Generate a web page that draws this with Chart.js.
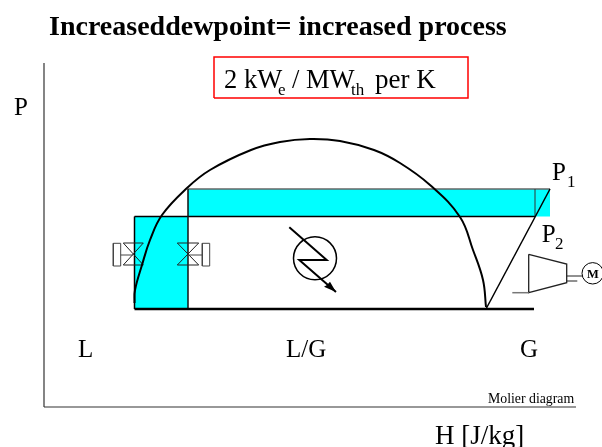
<!DOCTYPE html>
<html>
<head>
<meta charset="utf-8">
<title>Molier diagram</title>
<script src="https://cdn.jsdelivr.net/npm/chart.js@4"></script>
<style>
    body { margin: 0; background: #fff; }
    canvas { display: block; }
</style>
</head>
<body>
<canvas id="molierChart" width="602" height="447"></canvas>
<script>
// Values are [H, P] in the diagram's own units
const domeH = [90.5, 91, 98, 106, 118, 143, 166, 207, 236, 266, 296, 330, 356, 386, 416, 429, 439, 442];
const domeP = [104, 117, 142, 167, 192, 219, 237, 257, 265, 268, 266, 257, 244, 222, 190, 157, 127, 100];

const axisH = [[0, 0], [532, 0]];
const axisP = [[0, 0], [0, 344]];

const bandArea = [[144, 190.5], [506, 190.5], [506, 218], [144, 218], [144, 190.5]];
const blockArea = [[90.5, 98], [144, 98], [144, 190.5], [90.5, 190.5], [90.5, 98]];

const bandTop = [[144, 218], [506, 218]];
const bandBottom = [[90.5, 190.5], [491, 190.5]];
const bandEnd = [[491, 190.5], [491, 218]];
const leftEdge = [[90.5, 98], [90.5, 190.5]];
const midEdge = [[144, 98], [144, 218]];
const liquidLine = [[90.5, 98], [490, 98]];
const compressionLine = [[506, 218], [442, 98]];

const leftValveBox = [[69.3, 141], [76.7, 141], [76.7, 163.7], [69.3, 163.7], [69.3, 141]];
const leftValveCross = [[79.3, 164], [99.3, 164], [79.3, 142], [99.3, 142], [79.3, 164]];
const leftValveStem = [[76.7, 152], [89, 152]];
const rightValveBox = [[158.3, 141], [165.7, 141], [165.7, 163.7], [158.3, 163.7], [158.3, 141]];
const rightValveCross = [[133.3, 164], [154.7, 164], [133.3, 142], [154.7, 142], [133.3, 164]];
const rightValveStem = [[144, 152], [158.3, 152]];

const exchangerCentre = [[271, 148.7]];
const exchangerArrow = [[245.3, 179.7], [282.7, 147], [255.3, 147], [292, 115]];
const arrowHead = [[292, 115], [280, 120.3], [283, 122], [286, 125.3], [292, 115]];

const compressorBody = [[484.7, 152.7], [522.7, 143], [522.7, 124.3], [484.7, 114.3], [484.7, 152.7]];
const compressorInlet = [[468.3, 114.3], [484.7, 114.3]];
const shaftUpper = [[522.7, 131], [538, 131]];
const shaftLower = [[522.7, 126], [533.3, 126]];
const motorCentre = [[548.7, 133.7]];

const noteBox = [[170, 309], [424, 309], [424, 350], [170, 350], [170, 309]];

const serif = '"Liberation Serif", "Times New Roman", serif';
const labels = [
    { text: 'Increaseddewpoint= increased process', h: 5, p: 372, font: 'bold 28px ' + serif },
    { text: '2 kW', h: 180, p: 319, font: '26.5px ' + serif },
    { text: 'e', h: 234, p: 312, font: '17px ' + serif },
    { text: '/ MW', h: 248, p: 319, font: '26.5px ' + serif },
    { text: 'th', h: 307, p: 312, font: '17px ' + serif },
    { text: 'per K', h: 331, p: 319, font: '27px ' + serif },
    { text: 'P', h: -30, p: 292, font: '25px ' + serif },
    { text: 'P', h: 508, p: 227, font: '25px ' + serif },
    { text: '1', h: 523, p: 220, font: '17px ' + serif },
    { text: 'P', h: 497.7, p: 165.3, font: '25px ' + serif },
    { text: '2', h: 511, p: 158, font: '17px ' + serif },
    { text: 'M', h: 543, p: 129, font: 'bold 12.5px ' + serif },
    { text: 'L', h: 34, p: 50, font: '25px ' + serif },
    { text: 'L/G', h: 242, p: 50, font: '25px ' + serif },
    { text: 'G', h: 476, p: 50, font: '25px ' + serif },
    { text: 'Molier diagram', h: 444, p: 4, font: '13.8px ' + serif },
    { text: 'H [J/kg]', h: 391, p: -37, font: '27px ' + serif }
];

function toPoints(pairs) {
    return pairs.map(pair => ({ x: pair[0], y: pair[1] }));
}

function line(pairs, color, width) {
    return {
        data: toPoints(pairs),
        showLine: true,
        borderColor: color,
        borderWidth: width,
        pointRadius: 0,
        clip: false
    };
}

function area(pairs, color) {
    return {
        data: toPoints(pairs),
        showLine: true,
        borderWidth: 0,
        borderColor: color,
        backgroundColor: color,
        fill: 'shape',
        pointRadius: 0,
        clip: false
    };
}

function ring(pairs, radius, width) {
    return {
        data: toPoints(pairs),
        showLine: false,
        pointStyle: 'circle',
        pointRadius: radius,
        pointBorderWidth: width,
        pointBorderColor: '#000',
        pointBackgroundColor: 'rgba(255,255,255,0)',
        clip: false
    };
}

const domeLine = line(domeH.map((h, i) => [h, domeP[i]]), '#000', 2);
domeLine.tension = 0.4;

// Text sits on the same scales as the marks
const labelPlugin = {
    id: 'labelPlugin',
    afterDraw(chart) {
        const ctx = chart.ctx;
        ctx.save();
        ctx.fillStyle = '#000';
        ctx.textBaseline = 'alphabetic';
        labels.forEach(label => {
            ctx.font = label.font;
            ctx.fillText(label.text, chart.scales.x.getPixelForValue(label.h), chart.scales.y.getPixelForValue(label.p));
        });
        ctx.restore();
    }
};

// Chart.js paints the last dataset first, so the top layer is listed first
const layers = [
    line(noteBox, '#ff0000', 1.5),
    ring(motorCentre, 10.7, 1),
    line(shaftLower, '#222', 1),
    line(shaftUpper, '#222', 1),
    line(compressorInlet, '#777', 1.5),
    line(compressorBody, '#222', 1.3),
    area(arrowHead, '#000'),
    line(exchangerArrow, '#000', 2),
    ring(exchangerCentre, 21.5, 1.5),
    line(compressionLine, '#000', 1.5),
    line(liquidLine, '#000', 2.5),
    domeLine,
    line(rightValveStem, '#444', 1),
    line(rightValveCross, '#222', 1),
    line(rightValveBox, '#444', 1),
    line(leftValveStem, '#444', 1),
    line(leftValveCross, '#222', 1),
    line(leftValveBox, '#444', 1),
    line(midEdge, '#111', 1.5),
    line(leftEdge, '#000', 1.5),
    line(bandEnd, '#333', 1),
    line(bandBottom, '#000', 1.5),
    line(bandTop, '#666', 1.5),
    area(blockArea, '#00ffff'),
    area(bandArea, '#00ffff'),
    line(axisH, '#333', 1.2),
    line(axisP, '#333', 1.2)
];

new Chart(document.getElementById('molierChart'), {
    type: 'scatter',
    data: { datasets: layers },
    options: {
        responsive: false,
        animation: false,
        layout: { autoPadding: false, padding: { left: 44, right: 0, top: 63, bottom: 40 } },
        plugins: {
            legend: { display: false },
            tooltip: { enabled: false }
        },
        scales: {
            x: { display: false, min: 0, max: 558 },
            y: { display: false, min: 0, max: 344 }
        }
    },
    plugins: [labelPlugin]
});
</script>
</body>
</html>
